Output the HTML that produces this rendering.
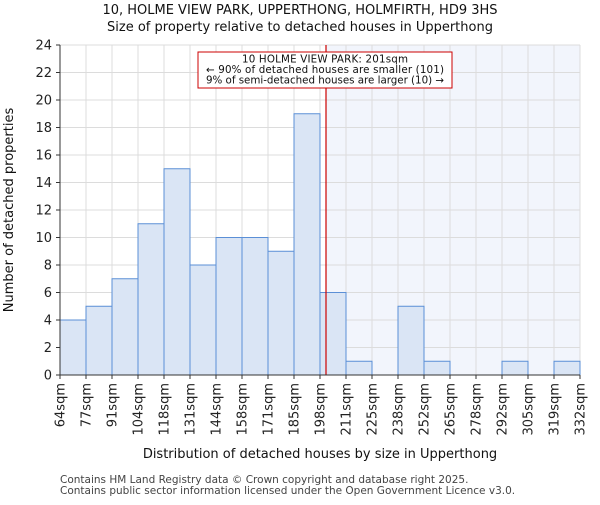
<!DOCTYPE html>
<html><head><meta charset="utf-8"><style>body{margin:0;background:#fff}svg{font-family:"DejaVu Sans","Liberation Sans",sans-serif}</style></head>
<body>
<svg id="c" width="600" height="500" xmlns="http://www.w3.org/2000/svg"></svg>
<script>
const categories=["64sqm","77sqm","91sqm","104sqm","118sqm","131sqm","144sqm","158sqm","171sqm","185sqm","198sqm","211sqm","225sqm","238sqm","252sqm","265sqm","278sqm","292sqm","305sqm","319sqm","332sqm"];
const values=[4,5,7,11,15,8,10,10,9,19,6,1,0,5,1,0,0,1,0,1];
const yTicks=[0,2,4,6,8,10,12,14,16,18,20,22,24];
const edges=[64,77,91,104,118,131,144,158,171,185,198,211,225,238,252,265,278,292,305,319,332];
const marker=201;
const L=60,R=580,T=45,B=375,N=values.length,W=(R-L)/N;
const x=i=>L+i*W, y=v=>B-(v/24)*(B-T);
function xv(v){for(let i=0;i<edges.length-1;i++){if(v>=edges[i]&&v<=edges[i+1])return x(i)+W*(v-edges[i])/(edges[i+1]-edges[i]);}return R;}
const s=document.getElementById('c');const NS="http://www.w3.org/2000/svg";
function el(t,a,p){const e=document.createElementNS(NS,t);for(const k in a)e.setAttribute(k,a[k]);(p||s).appendChild(e);return e;}
function tx(t,a){const e=el('text',a);e.textContent=t;return e;}
const mx=xv(marker);
let e=el('rect',{x:mx,y:T,width:R-mx,height:B-T,fill:'#f2f5fc'});


for(const v of yTicks){e=el('line',{x1:L,x2:R,y1:y(v),y2:y(v),stroke:'#dcdcdc','stroke-width':1});

}
for(let i=0;i<=N;i++){e=el('line',{x1:x(i),x2:x(i),y1:T,y2:B,stroke:'#dcdcdc','stroke-width':1});

}
values.forEach((v,i)=>{if(v<=0)return;e=el('rect',{x:x(i),y:y(v),width:W,height:B-y(v),fill:'#dae5f5',stroke:'#5b8fd6','stroke-width':1});

});
e=el('line',{x1:mx,x2:mx,y1:T,y2:B,stroke:'#cc0000','stroke-width':1.2});


e=el('line',{x1:L,x2:L,y1:T,y2:B,stroke:'#333'});


e=el('line',{x1:L,x2:R,y1:B,y2:B,stroke:'#333'});


for(const v of yTicks){el('line',{x1:L-4,x2:L,y1:y(v),y2:y(v),stroke:'#333'});
e=tx(v,{x:L-8,y:y(v)+4.5,'text-anchor':'end','font-size':13,fill:'#222'});

}
categories.forEach((c,i)=>{const px=x(i);el('line',{x1:px,x2:px,y1:B,y2:B+4,stroke:'#333'});
e=tx(c,{x:0,y:0,transform:`translate(${px+4.5},${B+8}) rotate(-90)`,'text-anchor':'end','font-size':13,fill:'#222'});

});
e=el('rect',{x:198,y:52,width:254,height:36,fill:'#fff',stroke:'#cc0000','stroke-width':1});


[["10 HOLME VIEW PARK: 201sqm",62.5],["← 90% of detached houses are smaller (101)",73],["9% of semi-detached houses are larger (10) →",83.5]].forEach(([t,yy])=>{e=tx(t,{x:325,y:yy,'text-anchor':'middle','font-size':10.3,'textLength':t.length>30?238:166,fill:'#111'});

});
e=tx("10, HOLME VIEW PARK, UPPERTHONG, HOLMFIRTH, HD9 3HS",{x:300,y:14,'text-anchor':'middle','font-size':13,fill:'#111'});


e=tx("Size of property relative to detached houses in Upperthong",{x:300,y:31,'text-anchor':'middle','font-size':13,fill:'#111'});


e=tx("Distribution of detached houses by size in Upperthong",{x:320,y:458,'text-anchor':'middle','font-size':13,fill:'#111'});


e=tx("Number of detached properties",{x:0,y:0,transform:'translate(13,210) rotate(-90)','text-anchor':'middle','font-size':13,fill:'#111'});


e=tx("Contains HM Land Registry data © Crown copyright and database right 2025.",{x:60,y:483,'font-size':10.5,fill:'#444'});


e=tx("Contains public sector information licensed under the Open Government Licence v3.0.",{x:60,y:494,'font-size':10.5,fill:'#444'});


</script>
</body></html>
